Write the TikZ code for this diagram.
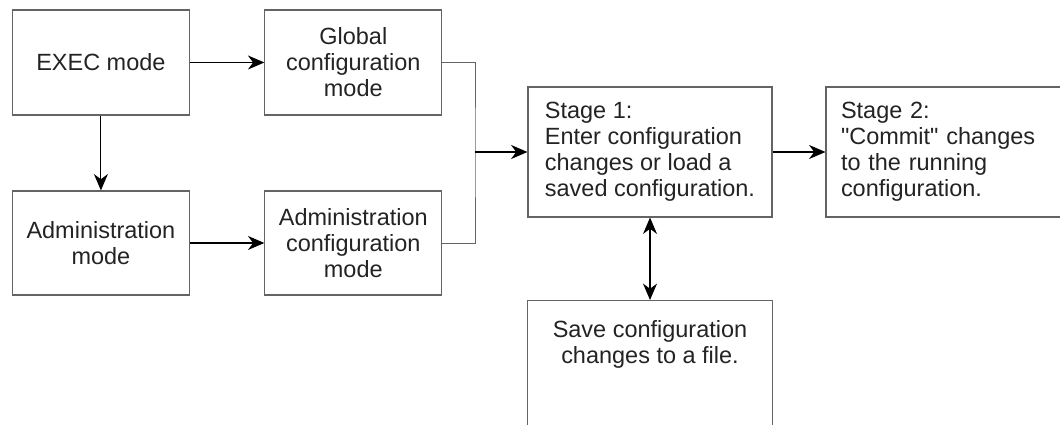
\documentclass[tikz,border=0pt]{standalone}
\usepackage{fontspec}
\setmainfont{Liberation Sans}
\usetikzlibrary{arrows.meta}
\definecolor{boxgray}{RGB}{100,100,100}
\definecolor{textgray}{RGB}{35,35,35}
\tikzset{
  modebox/.style={draw=boxgray, line width=0.8pt, align=center, text=textgray,
    font=\fontsize{16.7}{18.5}\selectfont, inner sep=0pt},
  stagebox/.style={modebox, align=left},
  >={Stealth[length=4.1mm,width=3.5mm,inset=1.3mm]},
  arr/.style={->, line width=0.75pt},
  link/.style={draw=boxgray, line width=0.7pt}
}
\begin{document}
\begin{tikzpicture}
    \useasboundingbox (0,0) rectangle (26.5,10.625);
    \clip (0,0) rectangle (26.5,10.625);
    % mode boxes
    \node[modebox, minimum width=4.42cm, minimum height=2.625cm] (exec) at (2.5225,9.0625) {EXEC mode};
    \node[modebox, minimum width=4.42cm, minimum height=2.625cm] (global) at (8.8325,9.0625) {Global\\configuration\\mode};
    \node[modebox, minimum width=4.42cm, minimum height=2.6cm] (admin) at (2.5225,4.55) {Administration\\mode};
    \node[modebox, minimum width=4.42cm, minimum height=2.6cm] (adminconf) at (8.8325,4.55) {Administration\\configuration\\mode};
    % stages
    \node[stagebox, minimum width=6.1cm, minimum height=3.25cm] (stage1) at (16.25,6.825) {Stage 1:\\Enter configuration\\changes or load a\\saved configuration.};
    \node[stagebox, minimum width=7.5cm, minimum height=3.25cm, text width=6.75cm, inner xsep=0.375cm] (stage2) at (24.4,6.825) {Stage 2:\\\textquotedbl Commit\textquotedbl{} changes\\to the running\\configuration.};
    \node[modebox, anchor=north, minimum width=6.125cm, minimum height=3.75cm,
      label={[modebox, draw=none, anchor=north, yshift=-0.5cm]north:Save configuration\\changes to a file.}] (save) at (16.25,3.125) {};
    \coordinate (merge) at (11.875,6.825);
    % connectors
    \draw[arr] (exec) -- (global);
    \draw[arr] (exec) -- (admin);
    \draw[arr] (admin) -- (adminconf);
    \draw[link] (global.east) -| (merge) |- (adminconf.east);
    \draw[arr] (merge) -- (stage1.west);
    \draw[arr] (stage1) -- (stage2);
    \draw[arr, <->] (save.north) -- (stage1.south);
\end{tikzpicture}
\end{document}
